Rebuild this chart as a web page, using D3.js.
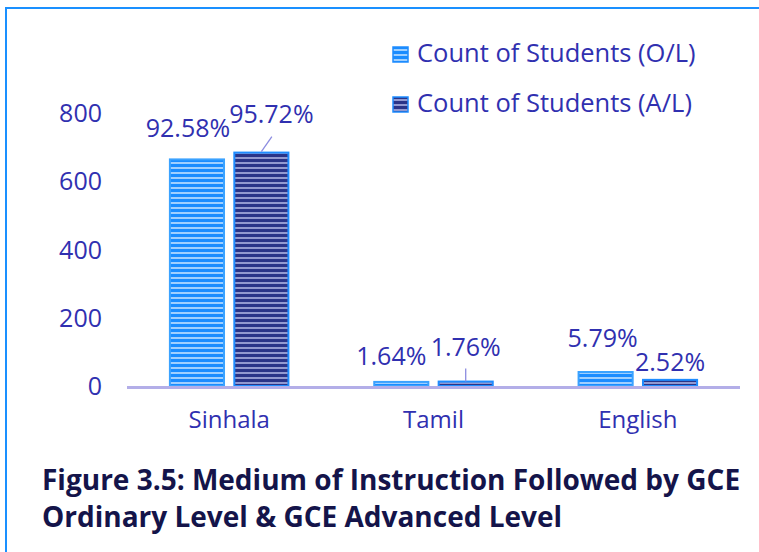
<!DOCTYPE html>
<html>
<head>
<meta charset="utf-8">
<script src="https://cdn.jsdelivr.net/npm/d3@7"></script>
<style>
  body { margin: 0; background: #fff; }
  svg { display: block; font-family: "Open Sans", sans-serif; }
</style>
</head>
<body>
<svg id="chart" width="759" height="552"></svg>
<script>
// chart data
var categories = ["Sinhala", "Tamil", "English"];
var seriesNames = ["Count of Students (O/L)", "Count of Students (A/L)"];
var olCounts = [664, 12, 41];
var alCounts = [684, 13, 18];
var olPercent = ["92.58%", "1.64%", "5.79%"];
var alPercent = ["95.72%", "1.76%", "2.52%"];
var yTicks = [0, 200, 400, 600, 800];

// label nudges (dx, dy) relative to the bar top centre, like excel's manual placement
var olNudge = [[-9, -22], [-10, -17], [-3, -25]];
var alNudge = [[10, -30], [0, -26], [0, -9]];

var svg = d3.select("#chart");
var textColor = "#3030b0";

// patterns for striped bars
var defs = svg.append("defs");
function stripes(id, base, line, op) {
    var p = defs.append("pattern")
        .attr("id", id)
        .attr("patternUnits", "userSpaceOnUse")
        .attr("width", 8).attr("height", 5);
    p.append("rect").attr("width", 8).attr("height", 5).attr("fill", base);
    p.append("rect").attr("y", 2).attr("width", 8).attr("height", 2)
        .attr("fill", line).attr("opacity", op);
}
stripes("olPat", "#1a8cff", "#d8ecff", 0.7);
stripes("alPat", "#2a3488", "#b4bbe8", 0.75);

// frame
svg.append("path")
    .attr("d", "M6,560 L6,8 L770,8")
    .attr("fill", "none")
    .attr("stroke", "#1a90ff")
    .attr("stroke-width", 2);

var x0 = d3.scaleBand()
    .domain(categories)
    .range([127, 740])
    .paddingInner(0.42)
    .paddingOuter(0.21);

var x1 = d3.scaleBand()
    .domain([0, 1])
    .range([0, x0.bandwidth()])
    .paddingInner(0.16);

var y = d3.scaleLinear()
    .domain([0, 800])
    .range([386, 113]);

// y tick labels
svg.selectAll(".ytick")
    .data(yTicks)
    .enter().append("text")
    .attr("class", "ytick")
    .attr("x", 102)
    .attr("y", function(d) { return y(d); })
    .attr("dy", "0.36em")
    .attr("text-anchor", "end")
    .attr("fill", textColor)
    .style("font-size", "25px")
    .text(function(d) { return d; });

var rows = categories.map(function(c, i) {
    return [
        { cat: c, s: 0, v: olCounts[i], lab: olPercent[i], n: olNudge[i] },
        { cat: c, s: 1, v: alCounts[i], lab: alPercent[i], n: alNudge[i] }
    ];
});
var flat = [].concat.apply([], rows);

svg.selectAll(".bar")
    .data(flat)
    .enter().append("rect")
    .attr("class", "bar")
    .attr("x", function(d) { return x0(d.cat) + x1(d.s); })
    .attr("y", function(d) { return y(d.v); })
    .attr("width", x1.bandwidth())
    .attr("height", function(d) { return y(0) - y(d.v); })
    .attr("fill", function(d) { return d.s == 0 ? "url(#olPat)" : "url(#alPat)"; })
    .attr("stroke", function(d) { return d.s == 0 ? "#3aa2ff" : "#1e8cff"; })
    .attr("stroke-width", 2);

// axis line
svg.append("line")
    .attr("x1", 127).attr("x2", 740)
    .attr("y1", y(0) + 1.5).attr("y2", y(0) + 1.5)
    .attr("stroke", "#b3aee8")
    .attr("stroke-width", 3);

// leader lines
svg.append("line")
    .attr("x1", x0("Sinhala") + x1(1) + x1.bandwidth() / 2 + 10.5)
    .attr("y1", y(alCounts[0]) - 16)
    .attr("x2", x0("Sinhala") + x1(1) + x1.bandwidth() / 2)
    .attr("y2", y(alCounts[0]) - 1)
    .attr("stroke", "#8c8ce0").attr("stroke-width", 1.3);
svg.append("line")
    .attr("x1", x0("Tamil") + x1(1) + x1.bandwidth() / 2)
    .attr("y1", y(alCounts[1]) - 13)
    .attr("x2", x0("Tamil") + x1(1) + x1.bandwidth() / 2)
    .attr("y2", y(alCounts[1]))
    .attr("stroke", "#8c8ce0").attr("stroke-width", 1.3);

// percentage labels
svg.selectAll(".plab")
    .data(flat)
    .enter().append("text")
    .attr("class", "plab")
    .attr("x", function(d) { return x0(d.cat) + x1(d.s) + x1.bandwidth() / 2 + d.n[0]; })
    .attr("y", function(d) { return y(d.v) + d.n[1]; })
    .attr("text-anchor", "middle")
    .attr("fill", textColor)
    .style("font-size", "25px")
    .text(function(d) { return d.lab; });

// category labels
svg.selectAll(".xlab")
    .data(categories)
    .enter().append("text")
    .attr("class", "xlab")
    .attr("x", function(d) { return x0(d) + x0.bandwidth() / 2; })
    .attr("y", 428)
    .attr("text-anchor", "middle")
    .attr("fill", textColor)
    .style("font-size", "24px")
    .text(function(d) { return d; });

// legend
var legend = svg.selectAll(".legend")
    .data(seriesNames)
    .enter().append("g")
    .attr("class", "legend")
    .attr("transform", function(d, i) { return "translate(393," + (47 + i * 50) + ")"; });

legend.append("rect")
    .attr("width", 15).attr("height", 15)
    .attr("fill", function(d, i) { return i == 0 ? "url(#olPat)" : "url(#alPat)"; })
    .attr("stroke", "#1e8cff").attr("stroke-width", 1.5);

legend.append("text")
    .attr("x", 24)
    .attr("y", 15)
    .attr("fill", textColor)
    .style("font-size", "25.5px")
    .text(function(d) { return d; });

// caption
var caption = ["Figure 3.5: Medium of Instruction Followed by GCE",
               "Ordinary Level & GCE Advanced Level"];
svg.selectAll(".cap")
    .data(caption)
    .enter().append("text")
    .attr("class", "cap")
    .attr("x", 42)
    .attr("y", function(d, i) { return 490 + i * 37; })
    .attr("fill", "#14144a")
    .style("font-size", "28px")
    .style("font-weight", "bold")
    .text(function(d) { return d; });
</script>
</body>
</html>
